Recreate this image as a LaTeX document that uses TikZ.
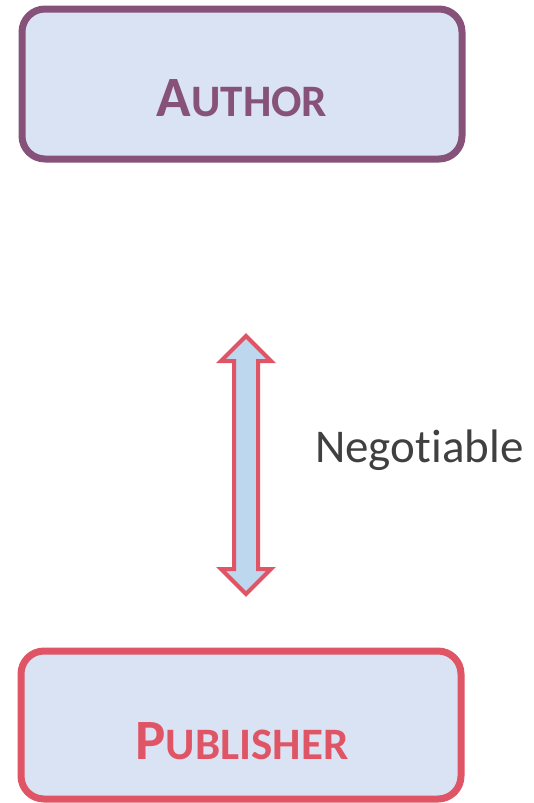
\documentclass[tikz,border=0pt]{standalone}
\usepackage{fontspec}
\setmainfont[Ligatures=NoCommon]{Carlito}
\definecolor{authc}{HTML}{875279}
\definecolor{pubc}{HTML}{E05566}
\definecolor{boxfill}{HTML}{DAE3F3}
\definecolor{arrfill}{HTML}{BDD7EE}
\definecolor{txtc}{HTML}{404040}
\begin{document}
\begin{tikzpicture}[x=1pt,y=-1pt,
  rolebox/.style={draw, line width=7pt, fill=boxfill, rounded corners=23pt},
  rolelabel/.style={anchor=base, font=\bfseries},
]
\useasboundingbox (0,0) rectangle (534,803);
\draw[rolebox, draw=authc] (22,9) rectangle (462,159);
\node[rolelabel, text=authc] (author) at (242,116) {\fontsize{57}{60}\selectfont A\fontsize{45}{50}\selectfont UTHOR};
\draw[rolebox, draw=pubc] (21,651) rectangle (461,799);
\node[rolelabel, text=pubc] (publisher) at (242,759) {\fontsize{57}{60}\selectfont P\fontsize{45}{50}\selectfont UBLISHER};
\draw[draw=pubc, fill=arrfill, line width=4pt, line join=miter]
  (246,336) -- (221,361) -- (234,361) -- (234,569) -- (221,569) -- (246,594)
  -- (271,569) -- (258,569) -- (258,361) -- (271,361) -- cycle;
\node[anchor=base west, inner sep=0pt, text=txtc, font=\fontsize{47}{50}\selectfont] (neg) at (315,462) {Negot\kern0pt iable};
\end{tikzpicture}
\end{document}
